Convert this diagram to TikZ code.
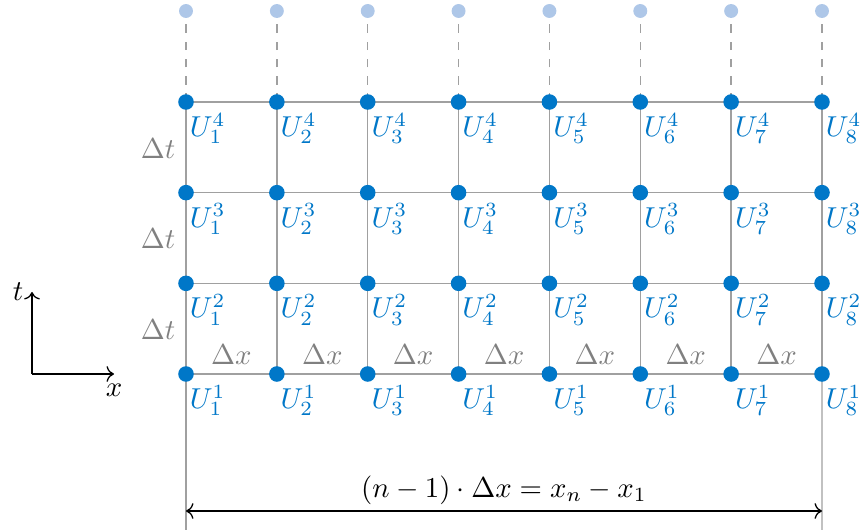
\documentclass[tikz,border=0pt]{standalone}
\usetikzlibrary{arrows.meta,calc}
\definecolor{ublue}{HTML}{0077C8}
\definecolor{lblue}{HTML}{AEC7E8}
\definecolor{gridgray}{HTML}{A0A0A0}
\definecolor{labgray}{HTML}{808080}
\begin{document}
\begin{tikzpicture}[x=0.0122cm,y=-0.0122cm,
  dot/.style={circle,fill=ublue,inner sep=0pt,minimum size=0.19cm},
  ghostdot/.style={circle,fill=lblue,inner sep=0pt,minimum size=0.17cm},
  gridline/.style={draw=gridgray,line width=0.5pt},
  ghostline/.style={draw=gridgray,dashed,line width=0.5pt},
  ulab/.style={text=ublue,inner sep=0pt,anchor=north west},
  dlab/.style={text=labgray,inner sep=0pt},
  axisline/.style={draw=black,line width=0.45pt,->}]
\useasboundingbox (0,0) rectangle (862,530);
% nodes
\foreach \i in {1,...,8}{
  \pgfmathsetmacro{\xx}{186+(\i-1)*90.857}
  \foreach \j in {1,...,4}{
    \pgfmathsetmacro{\yy}{374-(\j-1)*90.667}
    \coordinate (p-\i-\j) at (\xx,\yy);
  }
  \coordinate (t-\i) at (\xx,11);
}
% grid lines
\foreach \i in {1,...,8}{
  \draw[gridline] (p-\i-1) -- (p-\i-2) -- (p-\i-3) -- (p-\i-4);
  \draw[ghostline] (p-\i-4) -- (t-\i);
}
\foreach \j in {1,...,4}{
  \draw[gridline] (p-1-\j) -- (p-2-\j) -- (p-3-\j) -- (p-4-\j) -- (p-5-\j) -- (p-6-\j) -- (p-7-\j) -- (p-8-\j);
}
% bottom extension lines
\coordinate (b-l) at (186,530);
\coordinate (b-r) at (822,530);
\draw[gridline] (p-1-1) -- (b-l);
\draw[gridline] (p-8-1) -- (b-r);
% dots and labels
\foreach \i in {1,...,8}{
  \node[ghostdot] (g-\i) at (t-\i) {};
  \foreach \j in {1,...,4}{
    \node[dot] (d-\i-\j) at (p-\i-\j) {};
    \node[ulab] (u-\i-\j) at ([xshift=0.04cm,yshift=-0.13cm]p-\i-\j) {$U_{\i}^{\j}$};
  }
}
% Delta t labels
\foreach \j/\k in {1/2,2/3,3/4}{
  \node[dlab] (dt-\j) at ($(p-1-\j)!0.5!(p-1-\k) + (-28,1)$) {$\Delta t$};
}
% Delta x labels
\foreach \i/\k in {1/2,2/3,3/4,4/5,5/6,6/7,7/8}{
  \node[dlab,anchor=base] (dx-\i) at ($(p-\i-1)!0.5!(p-\k-1) + (0,-10)$) {$\Delta x$};
}
% dimension arrow
\coordinate (a-l) at (186,511);
\coordinate (a-r) at (822,511);
\draw[line width=0.45pt,<->] (a-l) -- (a-r);
\node[anchor=base,inner sep=0pt] (len) at (504,497) {$(n-1)\cdot\Delta x = x_n - x_1$};
% axes
\coordinate (O) at (32,374);
\coordinate (T) at (32,292);
\coordinate (X) at (114,374);
\draw[axisline] (O) -- (T);
\draw[axisline] (O) -- (X);
\node[inner sep=0pt] (tl) at (18,292) {$t$};
\node[inner sep=0pt] (xl) at (114,390) {$x$};
\end{tikzpicture}
\end{document}
